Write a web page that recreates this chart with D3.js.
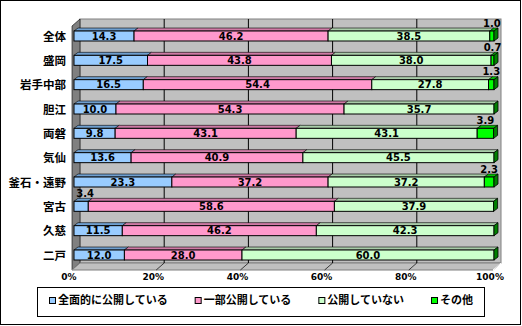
<!DOCTYPE html>
<html><head><meta charset="utf-8">
<script src="https://cdn.jsdelivr.net/npm/d3@7"></script>
<style>body{margin:0;background:#fff}svg{display:block}</style>
</head><body>
<svg id="c" width="522" height="326"></svg>
<script>
const categories = ["全体","盛岡","岩手中部","胆江","両磐","気仙","釜石・遠野","宮古","久慈","二戸"];
const seriesNames = ["全面的に公開している","一部公開している","公開していない","その他"];
const fullOpen   = [14.3,17.5,16.5,10.0,9.8,13.6,23.3,3.4,11.5,12.0];
const partOpen   = [46.2,43.8,54.4,54.3,43.1,40.9,37.2,58.6,46.2,28.0];
const notOpen    = [38.5,38.0,27.8,35.7,43.1,45.5,37.2,37.9,42.3,60.0];
const other      = [1.0,0.7,1.3,0,3.9,0,2.3,0,0,0];
const tickValues = [0,20,40,60,80,100];
const tickLabels = ["0%","20%","40%","60%","80%","100%"];

const front = ["#99CCFF","#FF99CC","#CCFFCC","#00FF00"];
const topC  = ["#6F9FCF","#CF7AA5","#A9CCA9","#00C000"];
const sideC = "#008000";

const svg = d3.select("#c");
const DX = 4, DY = 3, BH = 10, WD = 8, WH = 7;

const xBar = d3.scaleLinear().domain([0,100]).range([74,494]);
const xBack = d3.scaleLinear().domain([0,100]).range([80,501]);
const xFront = d3.scaleLinear().domain([0,100]).range([71,492]);
const yC = d3.scalePoint().domain(categories).range([36,255]);
const wallTop = 19, wallBot = 263;

// outer border
svg.append("rect").attr("x",0.5).attr("y",0.5).attr("width",520).attr("height",324)
  .attr("fill","#fff").attr("stroke","#000");

// back wall
svg.append("rect").attr("x",xBack(0)).attr("y",wallTop).attr("width",xBack(100)-xBack(0))
  .attr("height",wallBot-wallTop).attr("fill","#C0C0C0").attr("stroke","#808080");
// left wall
svg.append("polygon").attr("points",[[xBack(0)-WD,wallTop+WH],[xBack(0),wallTop],[xBack(0),wallBot],[xBack(0)-WD,wallBot+WH]].join(" "))
  .attr("fill","#808080").attr("stroke","#000").attr("stroke-width",0.6);
// floor
svg.append("polygon").attr("points",[[xBack(0),wallBot],[xBack(100),wallBot],[xBack(100)-WD,wallBot+WH],[xBack(0)-WD,wallBot+WH]].join(" "))
  .attr("fill","#C0C0C0").attr("stroke","#808080");
// gridlines
tickValues.slice(1,-1).forEach(v=>{
  svg.append("line").attr("x1",xBack(v)).attr("x2",xBack(v)).attr("y1",wallTop).attr("y2",wallBot).attr("stroke","#000");
  svg.append("line").attr("x1",xBack(v)).attr("x2",xBack(v)-WD).attr("y1",wallBot).attr("y2",wallBot+WH).attr("stroke","#000").attr("stroke-width",0.7);
});
svg.append("line").attr("x1",xBack(100)).attr("x2",xBack(100)-WD).attr("y1",wallBot).attr("y2",wallBot+WH).attr("stroke","#fff");

// bars
const series = [fullOpen, partOpen, notOpen, other];
categories.forEach((c,i)=>{
  const y0 = yC(c) - BH/2;
  let cum = 0;
  const g = svg.append("g");
  series.forEach((s,k)=>{
    const v = s[i];
    const a = xBar(cum), b = xBar(cum+v);
    cum += v;
    if (v > 0) {
      g.append("polygon").attr("points",[[a,y0],[a+DX,y0-DY],[b+DX,y0-DY],[b,y0]].join(" "))
        .attr("fill",topC[k]).attr("stroke","#000").attr("stroke-width",0.6);
      g.append("rect").attr("x",a).attr("y",y0).attr("width",b-a).attr("height",BH)
        .attr("fill",front[k]).attr("stroke","#000").attr("stroke-width",1);
    }
    if (k === series.length-1) {
      g.append("polygon").attr("points",[[b,y0],[b+DX,y0-DY],[b+DX,y0+BH-DY],[b,y0+BH]].join(" "))
        .attr("fill",sideC).attr("stroke","#000").attr("stroke-width",0.8);
    }
  });
  // labels
  cum = 0;
  series.forEach((s,k)=>{
    const v = s[i];
    const mid = xBar(cum + v/2);
    cum += v;
    if (v <= 0) return;
    const small = v < 5;
    svg.append("text").attr("x", small && k===0 ? mid+4 : mid)
      .attr("y", small ? y0-8 : yC(c))
      .attr("dy","0.36em").attr("text-anchor","middle")
      .attr("font-family","DejaVu Sans").attr("font-weight","bold").attr("font-size",10)
      .attr("fill","#000").text(v.toFixed(1));
  });
});

// category labels
svg.selectAll("text.cat").data(categories).enter().append("text").attr("class","cat")
  .attr("x",66).attr("y",d=>yC(d)+0.5).attr("dy","0.36em").attr("text-anchor","end")
  .attr("font-family","Noto Sans CJK JP").attr("font-weight","bold").attr("font-size",11.5)
  .text(d=>d);

// x tick labels
svg.selectAll("text.tick").data(tickValues).enter().append("text").attr("class","tick")
  .attr("x",d=>xFront(d)-2).attr("y",277).attr("dy","0.36em").attr("text-anchor","middle")
  .attr("font-family","DejaVu Sans").attr("font-weight","bold").attr("font-size",9)
  .text((d,i)=>tickLabels[i]);

// legend
svg.append("rect").attr("x",37.5).attr("y",287.5).attr("width",447).attr("height",29)
  .attr("fill","#fff").attr("stroke","#000");
let lx = 49;
seriesNames.forEach((n,k)=>{
  svg.append("rect").attr("x",lx+0.5).attr("y",297.5).attr("width",6).attr("height",6)
    .attr("fill",front[k]).attr("stroke","#000");
  const t = svg.append("text").attr("x",lx+9).attr("y",300.5).attr("dy","0.36em")
    .attr("font-family","Noto Sans CJK JP").attr("font-weight","bold").attr("font-size",11)
    .text(n);
  lx += 9 + t.node().getComputedTextLength() + 27;
});
</script>
</body></html>
